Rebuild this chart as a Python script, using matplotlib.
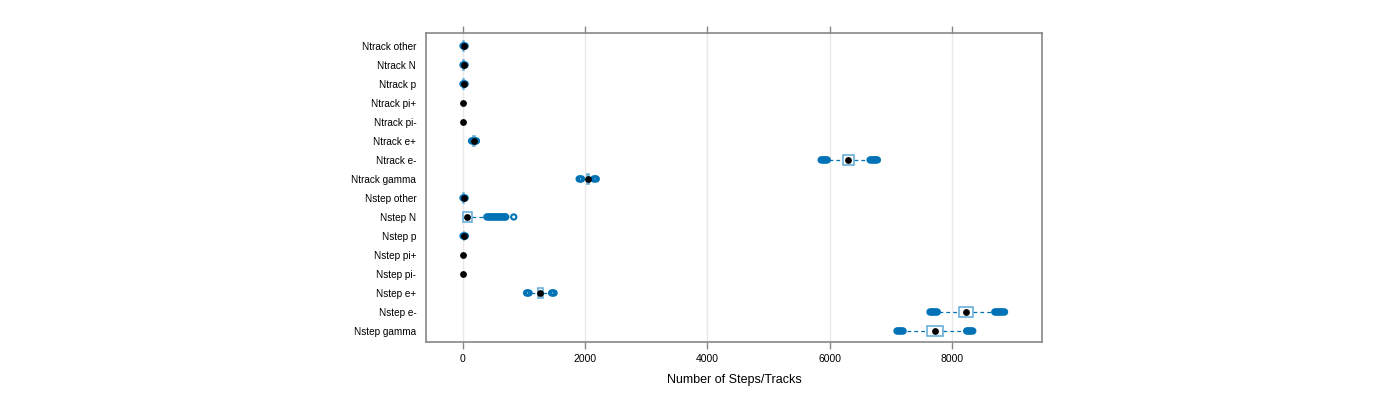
import numpy as np
import matplotlib
matplotlib.use("Agg")
from matplotlib import pyplot as plt
from matplotlib.patches import Rectangle

plt.rcParams['font.family'] = ['Liberation Sans', 'DejaVu Sans']

# categorias de arriba hacia abajo
categories = ["Ntrack other", "Ntrack N", "Ntrack p", "Ntrack pi+", "Ntrack pi-",
              "Ntrack e+", "Ntrack e-", "Ntrack gamma", "Nstep other", "Nstep N",
              "Nstep p", "Nstep pi+", "Nstep pi-", "Nstep e+", "Nstep e-", "Nstep gamma"]

# estadisticos de cada caja: q1, mediana, q3, bigote inferior, bigote superior
q1 = [8, 8, 8, 0, 0, 165, 6210, 2025, 8, 5, 10, 0, 0, 1230, 8110, 7590]
median = [12, 12, 12, 0, 0, 180, 6300, 2045, 12, 65, 15, 0, 0, 1265, 8230, 7720]
q3 = [16, 16, 16, 0, 0, 195, 6390, 2060, 16, 140, 20, 0, 0, 1310, 8340, 7850]
whisk_lo = [5, 5, 5, 0, 0, 150, 5990, 2000, 5, 0, 5, 0, 0, 1110, 7790, 7260]
whisk_hi = [20, 20, 20, 0, 0, 210, 6620, 2100, 20, 360, 25, 0, 0, 1410, 8650, 8180]

# valores atipicos (se dibujan como circulos abiertos)
outliers = [
    [0, 20, 35],
    [0, 20, 35],
    [0, 20, 35],
    [],
    [],
    [140, 160, 200, 220],
    [5860, 5880, 5900, 5920, 5940, 5960, 6660, 6680, 6700, 6720, 6740, 6760, 6780],
    [1900, 1920, 1940, 2140, 2160, 2180],
    [0, 20, 35],
    [390, 410, 430, 450, 470, 490, 510, 530, 550, 570, 590, 610, 630, 650, 670, 690, 700, 830],
    [0, 20, 40],
    [],
    [],
    [1040, 1060, 1080, 1450, 1470, 1490],
    [7640, 7660, 7680, 7700, 7720, 7740, 7760, 8700, 8720, 8740, 8760, 8780, 8800, 8820, 8840, 8860],
    [7100, 7120, 7140, 7160, 7180, 7200, 8240, 8260, 8280, 8300, 8320, 8340],
]

blue = "#0072B5"
box_col = "#5DA9D6"

fig = plt.figure(figsize=(14, 4), dpi=100)
ax = fig.add_axes([0.3043, 0.145, 0.44, 0.7725])

n = len(categories)
ys = np.arange(n, 0, -1)
hh = 0.27

for i, y in enumerate(ys):
    # bigotes punteados
    if whisk_lo[i] < q1[i]:
        ax.plot([whisk_lo[i], q1[i]], [y, y], ls='--', color=blue, lw=0.9, dashes=(3, 2.5), zorder=2)
    if whisk_hi[i] > q3[i]:
        ax.plot([q3[i], whisk_hi[i]], [y, y], ls='--', color=blue, lw=0.9, dashes=(3, 2.5), zorder=2)
    # caja
    if q3[i] > q1[i]:
        ax.add_patch(Rectangle((q1[i], y - hh), q3[i] - q1[i], 2 * hh,
                               facecolor='white', edgecolor=box_col, lw=1.1, zorder=3))
    # atipicos
    if outliers[i]:
        ax.scatter(outliers[i], [y] * len(outliers[i]), s=14, facecolors='none',
                   edgecolors=blue, linewidths=1.5, zorder=4)
    # mediana
    ax.scatter([median[i]], [y], s=24, color='black', zorder=5, linewidths=0)

ax.set_xlim(-605, 9473)
ax.set_ylim(0.42, n + 0.68)
ax.set_yticks(ys)
ax.set_yticklabels(categories, fontsize=7.2)
ax.set_xticks([0, 2000, 4000, 6000, 8000])
ax.tick_params(axis='x', labelsize=7.5, direction='out', length=5, color='#888888',
               top=True, width=1, pad=4)
ax.tick_params(axis='y', length=0, pad=7)
for x in [0, 2000, 4000, 6000, 8000]:
    ax.axvline(x, color='#e8e8e8', lw=1, zorder=0)
for sp in ax.spines.values():
    sp.set_color('#888888')
    sp.set_linewidth(1.2)
ax.set_xlabel("Number of Steps/Tracks", fontsize=9, labelpad=7)

fig.savefig("out.png", dpi=100)
